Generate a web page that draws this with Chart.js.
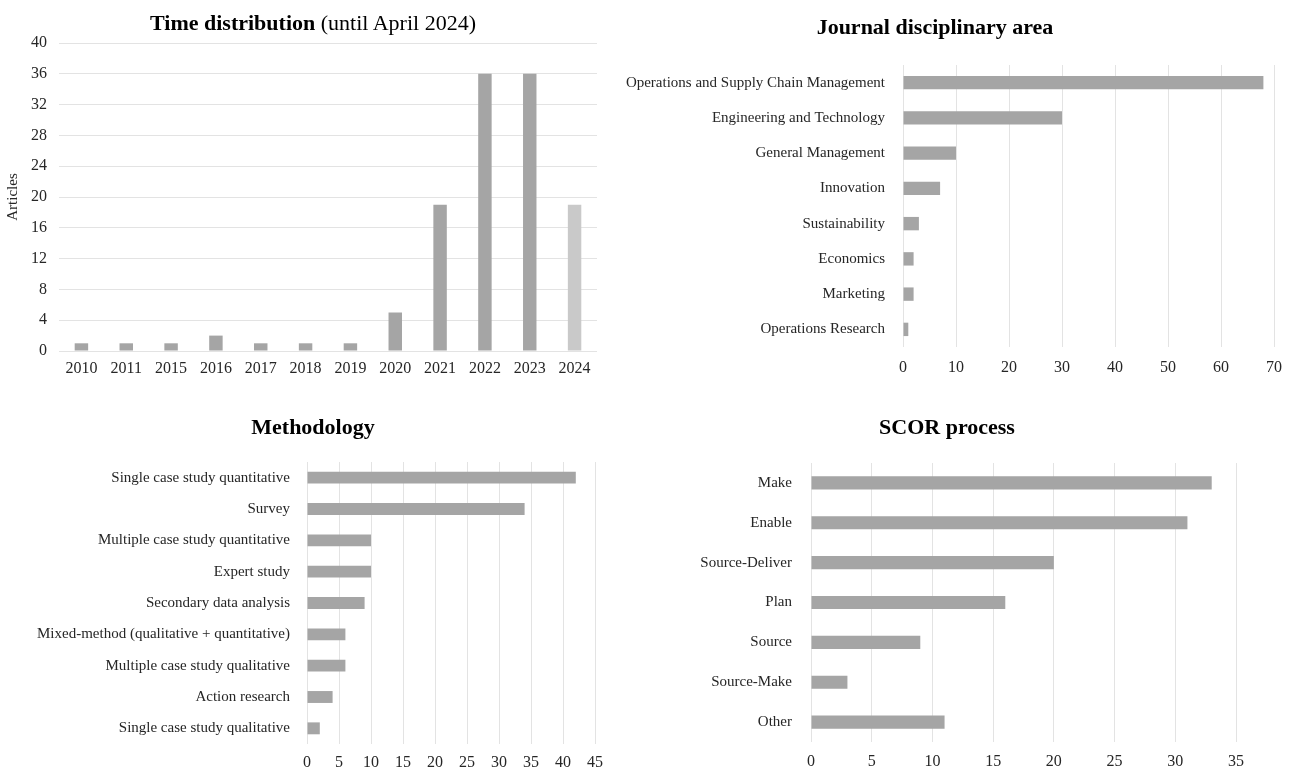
<!DOCTYPE html>
<html>
<head>
<meta charset="utf-8">
<script src="https://cdn.jsdelivr.net/npm/chart.js@4.4.1/dist/chart.umd.min.js"></script>
<style>
  html, body { margin: 0; padding: 0; background: #fff; }
  #page { position: relative; width: 1293px; height: 770px; overflow: hidden; }
  canvas { position: absolute; }
  .title {
    position: absolute;
    transform: translate(-50%, -50%);
    font: bold 22px "Liberation Serif", "Times New Roman", serif;
    color: #000;
    white-space: nowrap;
  }
  .title span { font-weight: normal; }
</style>
</head>
<body>
<div id="page">
  <canvas id="years" width="640" height="385" style="left:0;top:0"></canvas>
  <canvas id="areas" width="703" height="385" style="left:590px;top:0"></canvas>
  <canvas id="methods" width="640" height="385" style="left:0;top:385px"></canvas>
  <canvas id="scor" width="653" height="385" style="left:640px;top:385px"></canvas>

  <div class="title" style="left:313px;top:23px">Time distribution <span>(until April 2024)</span></div>
  <div class="title" style="left:935px;top:27px">Journal disciplinary area</div>
  <div class="title" style="left:313px;top:427px">Methodology</div>
  <div class="title" style="left:947px;top:427px">SCOR process</div>
</div>

<script>
const years = ['2010', '2011', '2015', '2016', '2017', '2018', '2019', '2020', '2021', '2022', '2023', '2024'];
const yearArticles = [1, 1, 1, 2, 1, 1, 1, 5, 19, 36, 36, 19];

const areas = [
  'Operations and Supply Chain Management',
  'Engineering and Technology',
  'General Management',
  'Innovation',
  'Sustainability',
  'Economics',
  'Marketing',
  'Operations Research',
];
const areaArticles = [68, 30, 10, 7, 3, 2, 2, 1];

const methods = [
  'Single case study quantitative',
  'Survey',
  'Multiple case study quantitative',
  'Expert study',
  'Secondary data analysis',
  'Mixed-method (qualitative + quantitative)',
  'Multiple case study qualitative',
  'Action research',
  'Single case study qualitative',
];
const methodArticles = [42, 34, 10, 10, 9, 6, 6, 4, 2];

const scorProcesses = ['Make', 'Enable', 'Source-Deliver', 'Plan', 'Source', 'Source-Make', 'Other'];
const scorArticles = [33, 31, 20, 16, 9, 3, 11];

const BAR = '#a5a5a5';
const BAR_PARTIAL = '#c9c9c9';
const GRID = '#e3e3e3';

Chart.defaults.font.family = '"Liberation Serif", "Times New Roman", serif';
Chart.defaults.color = '#262626';

function fixed(size) {
  return (scale) => {
    if (scale.isHorizontal()) scale.height = size;
    else scale.width = size;
  };
}

const BASE_PLUGINS = {legend: {display: false}, tooltip: {enabled: false}};

// vertical column chart: articles per year
new Chart(document.getElementById('years'), {
  type: 'bar',
  data: {
    labels: years,
    datasets: [{
      data: yearArticles,
      backgroundColor: years.map((y) => y === '2024' ? BAR_PARTIAL : BAR),
      barPercentage: 0.3,
      categoryPercentage: 1,
    }],
  },
  options: {
    responsive: false,
    animation: false,
    layout: {padding: {left: 0, right: 43, top: 43, bottom: 0}},
    plugins: BASE_PLUGINS,
    scales: {
      x: {
        grid: {display: false, drawTicks: false},
        border: {display: false},
        ticks: {font: {size: 16}, padding: 8, maxRotation: 0},
        afterFit: fixed(34),
      },
      y: {
        min: 0,
        max: 40,
        ticks: {stepSize: 4, font: {size: 16}, padding: 12},
        grid: {color: GRID, drawTicks: false},
        border: {display: false},
        title: {display: true, text: 'Articles', font: {size: 15}, padding: {top: 4, bottom: 0}},
        afterFit: fixed(59),
      },
    },
  },
});

function horizontalChart(id, labels, values, opts) {
  return new Chart(document.getElementById(id), {
    type: 'bar',
    data: {
      labels,
      datasets: [{
        data: values,
        backgroundColor: BAR,
        barPercentage: opts.thickness,
        categoryPercentage: 1,
      }],
    },
    options: {
      indexAxis: 'y',
      responsive: false,
      animation: false,
      layout: {padding: {left: 0, right: opts.right, top: opts.top, bottom: 0}},
      plugins: BASE_PLUGINS,
      scales: {
        x: {
          min: 0,
          max: opts.max,
          ticks: {stepSize: opts.step, font: {size: 16}, padding: opts.xPad},
          grid: {color: GRID, drawTicks: false},
          border: {display: false},
          afterFit: fixed(opts.bottom),
        },
        y: {
          grid: {display: false, drawTicks: false},
          border: {display: false},
          ticks: {font: {size: 15}, padding: opts.yPad},
          afterFit: fixed(opts.left),
        },
      },
    },
  });
}

horizontalChart('areas', areas, areaArticles, {
  max: 70, step: 10, thickness: 0.38,
  left: 313, right: 15, top: 65, bottom: 38, xPad: 11, yPad: 18,
});

horizontalChart('methods', methods, methodArticles, {
  max: 45, step: 5, thickness: 0.38,
  left: 307, right: 45, top: 77, bottom: 25, xPad: 9, yPad: 17,
});

horizontalChart('scor', scorProcesses, scorArticles, {
  max: 35, step: 5, thickness: 0.33,
  left: 171, right: 57, top: 78, bottom: 25, xPad: 10, yPad: 19,
});
</script>
</body>
</html>
